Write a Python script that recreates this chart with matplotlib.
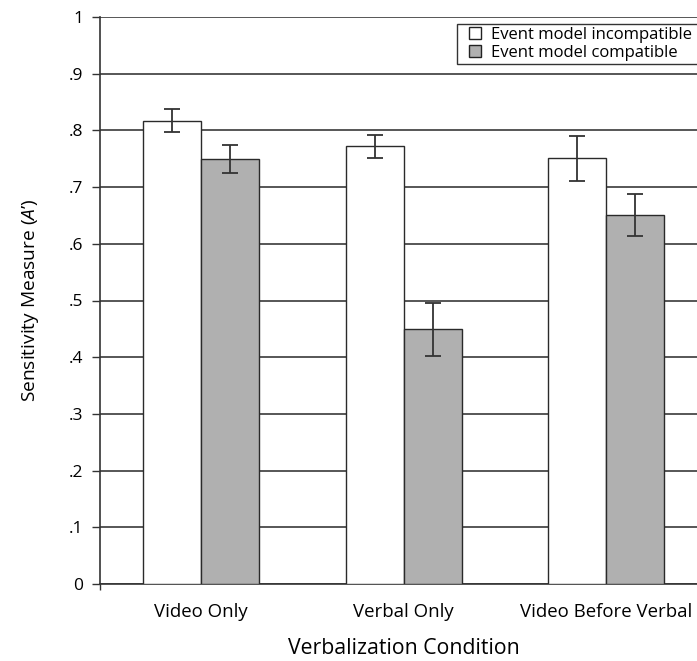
import matplotlib
matplotlib.use("Agg")
import matplotlib.pyplot as plt
from matplotlib.lines import Line2D
import numpy as np

plt.rcParams['font.family'] = ['Open Sans', 'DejaVu Sans']
plt.rcParams['mathtext.fontset'] = 'custom'
plt.rcParams['mathtext.rm'] = 'Open Sans'
plt.rcParams['mathtext.it'] = 'Open Sans:italic'

categories = ["Video Only", "Verbal Only", "Video Before Verbal"]
incompatible = [0.817, 0.772, 0.751]
incompatible_err = [0.020, 0.020, 0.040]
compatible = [0.750, 0.449, 0.650]
compatible_err = [0.025, 0.047, 0.037]
yticks = [0, 0.1, 0.2, 0.3, 0.4, 0.5, 0.6, 0.7, 0.8, 0.9, 1.0]
ytick_labels = ["0", ".1", ".2", ".3", ".4", ".5", ".6", ".7", ".8", ".9", "1"]
series_labels = ["Event model incompatible", "Event model compatible"]
series_colors = ["white", "#b0b0b0"]

W, H = 697, 661
fig = plt.figure(figsize=(W / 100, H / 100), dpi=100)
ax = fig.add_axes([100 / W, (H - 584) / H, 607.5 / W, 567 / H])

x = np.arange(len(categories))
bw = 0.287
ecol = '#2a2a2a'
ekw = dict(ecolor='#333333', elinewidth=1.3, capsize=6, capthick=1.3)
ax.bar(x - bw / 2, incompatible, bw, color=series_colors[0], edgecolor=ecol, linewidth=1.0,
       yerr=incompatible_err, error_kw=ekw, zorder=3)
ax.bar(x + bw / 2, compatible, bw, color=series_colors[1], edgecolor=ecol, linewidth=1.0,
       yerr=compatible_err, error_kw=ekw, zorder=3)

ax.set_xlim(-0.5, 2.5)
ax.set_ylim(0, 1)
ax.set_yticks(yticks)
ax.set_yticklabels(ytick_labels, fontsize=12.5)
ax.set_xticks(x)
ax.set_xticklabels(categories, fontsize=13.4)
ax.tick_params(axis='x', length=0, pad=14)
ax.tick_params(axis='y', length=6, width=1.0, color='#333333', pad=6)
ax.set_xticks([-0.5], minor=True)
ax.tick_params(axis='x', which='minor', length=4, width=1.0, color='#333333', direction='out')

ax.yaxis.grid(True, color='#3a3a3a', linewidth=1.2, zorder=0)
ax.set_axisbelow(True)
for s in ['top', 'right']:
    ax.spines[s].set_visible(False)
ax.spines['left'].set_color('#333333')
ax.spines['bottom'].set_color('#333333')
ax.spines['left'].set_linewidth(1.2)
ax.spines['bottom'].set_linewidth(1.2)

ax.set_xlabel("Verbalization Condition", fontsize=15.3, labelpad=12)
ax.set_ylabel("Sensitivity Measure ($\\mathit{A}$’)", fontsize=13.8, labelpad=20)

handles = [Line2D([], [], linestyle='none', marker='s', markersize=9, markeredgewidth=1.0,
                  markerfacecolor=c, markeredgecolor='#222222') for c in series_colors]
leg = fig.legend(handles=handles, labels=series_labels, loc='upper left',
                 bbox_to_anchor=(457 / W, 1 - 24 / H, 250 / W, 0), mode='expand',
                 frameon=True, fancybox=False, fontsize=12, handlelength=1.85,
                 handletextpad=0.0, borderpad=0.18, labelspacing=0.12,
                 borderaxespad=0)
leg.get_frame().set_edgecolor('black')
leg.get_frame().set_linewidth(1.0)

fig.savefig("out.png", dpi=100)
